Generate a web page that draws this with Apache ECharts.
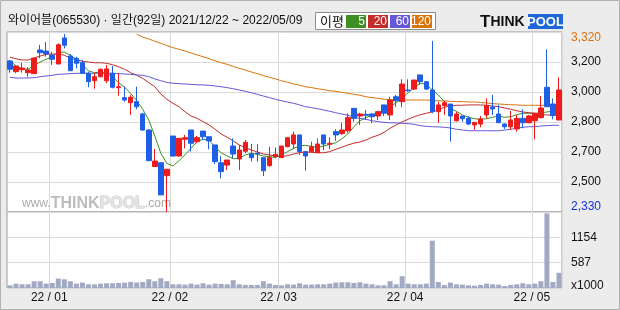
<!DOCTYPE html>
<html>
<head>
<meta charset="utf-8">
<script src="https://cdn.jsdelivr.net/npm/echarts@6/dist/echarts.min.js"></script>
<style>
  html, body { margin: 0; padding: 0; background: #ececec; }
  #chart { width: 620px; height: 310px; }
</style>
</head>
<body>
<div id="chart"></div>
<script type="text/javascript">
// 거래일 (2021/12/22 ~ 2022/05/09, 92일)
var dates = [
  '21/12/22','21/12/23','21/12/24','21/12/27','21/12/28','21/12/29','21/12/30',
  '22/01/03','22/01/04','22/01/05','22/01/06','22/01/07','22/01/10','22/01/11','22/01/12','22/01/13','22/01/14',
  '22/01/17','22/01/18','22/01/19','22/01/20','22/01/21','22/01/24','22/01/25','22/01/26','22/01/27','22/01/28',
  '22/02/03','22/02/04','22/02/07','22/02/08','22/02/09','22/02/10','22/02/11','22/02/14','22/02/15','22/02/16',
  '22/02/17','22/02/18','22/02/21','22/02/22','22/02/23','22/02/24','22/02/25','22/02/28',
  '22/03/02','22/03/03','22/03/04','22/03/07','22/03/08','22/03/10','22/03/11','22/03/14','22/03/15','22/03/16',
  '22/03/17','22/03/18','22/03/21','22/03/22','22/03/23','22/03/24','22/03/25','22/03/28','22/03/29','22/03/30','22/03/31',
  '22/04/01','22/04/04','22/04/05','22/04/06','22/04/07','22/04/08','22/04/11','22/04/12','22/04/13','22/04/14',
  '22/04/15','22/04/18','22/04/19','22/04/20','22/04/21','22/04/22','22/04/25','22/04/26','22/04/27','22/04/28','22/04/29',
  '22/05/02','22/05/03','22/05/04','22/05/06','22/05/09'
];

// 시가 / 종가 / 저가 / 고가
var openP = [3161,3102,3113,3096,3091,3221,3215,3193,3144,3287,3188,3175,3151,3093,3052,3074,3052,3093,3014,2959,
  2931,2937,2869,2781,2580,2601,2530,2748,2638,2730,2781,2717,2775,2744,2699,2601,2588,2693,2622,2664,
  2649,2653,2629,2585,2634,2629,2689,2704,2754,2662,2662,2656,2754,2702,2772,2761,2777,2900,2858,2867,
  2869,2858,2919,2864,2964,2937,3001,3006,3084,3047,3001,2882,2915,2924,2832,2858,2845,2809,2814,2864,
  2907,2869,2814,2799,2787,2845,2821,2832,2849,3016,2924,2836];
var closeP = [3115,3133,3122,3111,3177,3206,3199,3170,3250,3247,3107,3148,3093,3047,3074,3115,3117,3016,3019,2946,
  2961,2909,2781,2612,2610,2424,2565,2638,2735,2739,2708,2739,2744,2721,2607,2552,2616,2649,2671,2713,
  2629,2649,2557,2631,2647,2693,2739,2754,2662,2638,2689,2704,2704,2708,2754,2781,2849,2845,2869,2862,
  2854,2882,2873,2946,2942,3034,2997,3056,3047,3006,2882,2919,2931,2858,2869,2843,2814,2823,2842,2915,
  2897,2821,2799,2836,2845,2821,2858,2869,2902,2909,2860,3001];
var lowP = [3096,3093,3096,3074,3091,3175,3184,3139,3144,3230,3107,3120,3093,3016,3008,3071,3038,3010,2970,2937,
  2864,2895,2777,2612,2580,2424,2330,2634,2634,2680,2662,2708,2726,2675,2594,2515,2561,2625,2561,2653,
  2607,2607,2528,2579,2625,2629,2686,2675,2644,2557,2662,2656,2671,2675,2722,2754,2766,2827,2809,2836,
  2818,2836,2858,2836,2909,2906,2992,3001,3029,3001,2873,2821,2864,2717,2827,2827,2808,2781,2796,2845,
  2864,2821,2787,2781,2772,2790,2818,2730,2845,2909,2840,2836];
var highP = [3166,3139,3151,3126,3177,3249,3265,3212,3258,3309,3199,3184,3166,3102,3096,3120,3139,3133,3093,3019,
  2974,3019,2876,2785,2677,2601,2565,2748,2735,2754,2781,2748,2775,2744,2699,2638,2616,2735,2699,2726,
  2704,2704,2629,2689,2684,2693,2739,2772,2754,2662,2717,2735,2754,2741,2785,2821,2873,2900,2876,2891,
  2873,2882,2919,2964,2974,3060,3060,3056,3084,3047,3271,2937,2942,2924,2882,2858,2858,2823,2858,2955,
  2974,2919,2818,2885,2864,2895,2864,2876,2968,3225,2955,3071];

// 이동평균 (5 / 20 / 60 / 120)
var ma5 = [3162,3133,3118,3115,3137,3155,3170,3184,3208,3210,3192,3170,3139,3107,3096,3100,3093,3074,3041,3016,
  2983,2942,2895,2836,2748,2653,2598,2583,2612,2644,2680,2717,2730,2726,2686,2656,2638,2623,2625,2644,
  2653,2647,2638,2634,2631,2644,2662,2680,2693,2697,2691,2686,2693,2702,2711,2733,2759,2799,2832,2849,
  2864,2876,2891,2909,2931,2955,2986,3016,3038,3034,3001,2974,2937,2900,2884,2864,2851,2843,2840,2843,
  2851,2858,2851,2854,2865,2873,2873,2873,2876,2880,2884,2895];
var ma20 = [3181,3173,3166,3166,3177,3188,3197,3199,3199,3192,3177,3168,3159,3155,3151,3151,3148,3140,3129,3115,
  3096,3082,3065,3041,3019,2979,2950,2928,2909,2882,2858,2845,2827,2809,2785,2759,2741,2721,2699,2684,
  2671,2660,2649,2644,2638,2634,2640,2649,2656,2660,2658,2656,2656,2662,2675,2686,2699,2708,2715,2726,
  2741,2752,2768,2790,2809,2825,2840,2854,2865,2873,2880,2891,2906,2913,2917,2917,2919,2919,2919,2917,
  2913,2909,2902,2895,2887,2880,2876,2873,2867,2864,2862,2862];
var ma60 = [3071,3067,3067,3067,3069,3074,3078,3082,3087,3089,3091,3093,3093,3093,3093,3093,3093,3093,3091,3089,
  3087,3084,3082,3074,3062,3052,3043,3038,3036,3034,3032,3030,3029,3027,3023,3019,3014,3008,3001,2994,
  2986,2977,2968,2959,2950,2942,2935,2928,2919,2909,2904,2898,2891,2884,2876,2869,2862,2851,2845,2840,
  2832,2827,2823,2821,2820,2818,2816,2812,2805,2801,2799,2798,2796,2792,2785,2781,2777,2777,2777,2777,
  2777,2777,2781,2785,2790,2796,2799,2799,2803,2805,2807,2807];
var ma120 = [null,null,null,null,null,null,null,null,null,null,null,null,null,null,null,null,null,null,null,null,
  null,3308,3292,3282,3269,3258,3245,3234,3225,3216,3205,3194,3184,3173,3162,3151,3142,3131,3120,3111,
  3100,3091,3080,3071,3062,3052,3043,3034,3027,3019,3014,3008,3003,2997,2994,2988,2983,2977,2972,2964,
  2959,2955,2950,2948,2946,2946,2946,2946,2946,2946,2944,2942,2941,2939,2937,2937,2935,2935,2933,2930,
  2926,2924,2922,2920,2919,2917,2917,2917,2917,2917,2917,2917];

// 거래량 (x1000)
var volume = [62,100,85,85,155,155,100,116,216,200,155,100,124,85,85,100,108,108,116,124,
  139,124,139,200,155,224,155,85,85,77,100,77,108,77,100,93,85,178,85,70,
  70,70,155,100,70,62,85,77,108,77,77,85,85,100,124,131,131,116,131,100,
  85,62,62,155,85,270,100,85,85,100,1082,139,70,124,85,77,62,54,70,100,
  85,77,46,70,85,108,85,100,155,1708,139,348];

// 축 눈금 라벨
var priceLabels = ['2,330','2,500','2,700','2,800','3,000','3,200','3,320'];
var volLabels = ['x1000','587','1154',''];

var upColor = '#ee1b1b', downColor = '#1f5fe6';
var gridColor = '#dadada', borderColor = '#9c9c9c';
var font = '"Liberation Sans", "Noto Sans CJK KR", sans-serif';

// 월 시작 인덱스
var monthStart = [];
for (var i = 1; i < dates.length; i++) {
  if (dates[i].substr(0, 5) != dates[i - 1].substr(0, 5)) monthStart.push(i);
}
function isMonthStart(idx) { return monthStart.indexOf(idx) >= 0; }

var ohlc = [];
for (var k = 0; k < dates.length; k++) {
  ohlc.push([openP[k], closeP[k], lowP[k], highP[k]]);
}

function maSeries(name, data, color) {
  return {
    name: name, type: 'line', data: data, xAxisIndex: 0, yAxisIndex: 0,
    symbol: 'none', smooth: false, silent: true, z: 3,
    lineStyle: { color: color, width: 1 }
  };
}

var chart = echarts.init(document.getElementById('chart'), null, { renderer: 'canvas' });
var option = {
  animation: false,
  backgroundColor: '#ececec',
  textStyle: { fontFamily: font },
  grid: [
    { left: 7, top: 32, width: 555, height: 180, show: true, backgroundColor: '#fff',
      borderColor: borderColor, borderWidth: 1, containLabel: false, outerBoundsMode: 'none' },
    { left: 7, top: 212, width: 555, height: 76, show: true, backgroundColor: '#fff',
      borderColor: borderColor, borderWidth: 1, containLabel: false, outerBoundsMode: 'none' }
  ],
  xAxis: [
    { type: 'category', gridIndex: 0, data: dates, boundaryGap: true,
      axisLine: { show: false }, axisTick: { show: false }, axisLabel: { show: false },
      splitLine: { show: true, interval: function (idx) { return isMonthStart(idx); },
        lineStyle: { color: gridColor, width: 1 } } },
    { type: 'category', gridIndex: 1, data: dates, boundaryGap: true,
      axisLine: { show: false }, axisTick: { show: false },
      axisLabel: { show: true, interval: function (idx) { return isMonthStart(idx); },
        formatter: function (v) { return v.substr(0, 2) + ' / ' + v.substr(3, 2); },
        color: '#111', fontSize: 12, fontFamily: font, margin: 4, padding: [0, 6, 0, 0] },
      splitLine: { show: true, interval: function (idx) { return isMonthStart(idx); },
        lineStyle: { color: gridColor, width: 1 } } }
  ],
  yAxis: [
    { type: 'value', gridIndex: 0, min: 2330, max: 3320, show: false, splitLine: { show: false } },
    { type: 'value', gridIndex: 0, min: 0, max: 6, interval: 1, position: 'right',
      axisLine: { show: false }, axisTick: { show: false },
      splitLine: { show: true, lineStyle: { color: gridColor, width: 1 } },
      axisLabel: { show: true, margin: 9, fontSize: 12, fontFamily: font, align: 'left',
        formatter: function (v) {
          var s = priceLabels[Math.round(v)];
          if (v == 6) return '{top|' + s + '}';
          if (v == 0) return '{bot|' + s + '}';
          return s;
        },
        color: '#111',
        rich: {
          top: { color: '#d9740a', fontSize: 12, fontFamily: font, padding: [11, 0, 0, 0] },
          bot: { color: '#1a2fd8', fontSize: 12, fontFamily: font, padding: [0, 0, 10, 0] }
        } } },
    { type: 'value', gridIndex: 1, min: 0, max: 1740, show: false, splitLine: { show: false } },
    { type: 'value', gridIndex: 1, min: 0, max: 3, interval: 1, position: 'right',
      axisLine: { show: false }, axisTick: { show: false },
      splitLine: { show: true, lineStyle: { color: gridColor, width: 1 } },
      axisLabel: { show: true, margin: 9, fontSize: 12, fontFamily: font, align: 'left', color: '#111',
        formatter: function (v) {
          var s = volLabels[Math.round(v)];
          if (v == 0) return '{bot|' + s + '}';
          return s;
        },
        rich: { bot: { color: '#111', fontSize: 12, fontFamily: font, padding: [0, 0, 5, 0] } } } }
  ],
  series: [
    { name: 'candle', type: 'candlestick', data: ohlc, xAxisIndex: 0, yAxisIndex: 0,
      barWidth: 5, z: 4,
      itemStyle: { color: upColor, color0: downColor, borderColor: upColor, borderColor0: downColor, borderWidth: 1 } },
    maSeries('MA5', ma5, '#3d8f22'),
    maSeries('MA20', ma20, '#c42b2b'),
    maSeries('MA60', ma60, '#6656d8'),
    maSeries('MA120', ma120, '#d9740a'),
    { name: 'volume', type: 'bar', data: volume, xAxisIndex: 1, yAxisIndex: 2,
      barWidth: 5, itemStyle: { color: '#a2a9c2' } }
  ],
  graphic: [
    { type: 'rect', shape: { x: 0.5, y: 0.5, width: 619, height: 309 }, silent: true, z: -10,
      style: { fill: 'none', stroke: '#b2b2b2', lineWidth: 1 } },
    // 제목
    { type: 'text', x: 8, y: 21, silent: true,
      style: { text: '와이어블(065530) · 일간(92일) 2021/12/22 ~ 2022/05/09', fill: '#111',
        font: '12px ' + font, verticalAlign: 'middle' } },
    // 이평 범례
    { type: 'rect', shape: { x: 315.5, y: 12.5, width: 120, height: 17 }, silent: true,
      style: { fill: '#fff', stroke: '#8c8c8c', lineWidth: 1 } },
    { type: 'text', x: 320, y: 21, silent: true,
      style: { text: '이평', fill: '#111', font: '13px "Noto Sans CJK KR", sans-serif', verticalAlign: 'middle' } },
    { type: 'rect', shape: { x: 346, y: 15, width: 20, height: 13 }, silent: true, style: { fill: '#3d8f22' } },
    { type: 'rect', shape: { x: 368, y: 15, width: 20, height: 13 }, silent: true, style: { fill: '#c42b2b' } },
    { type: 'rect', shape: { x: 390, y: 15, width: 20, height: 13 }, silent: true, style: { fill: '#6656d8' } },
    { type: 'rect', shape: { x: 412, y: 15, width: 20, height: 13 }, silent: true, style: { fill: '#d9740a' } },
    { type: 'text', x: 365, y: 21.5, silent: true, style: { text: '5', fill: '#fff', font: '12px ' + font, align: 'right', verticalAlign: 'middle' } },
    { type: 'text', x: 387, y: 21.5, silent: true, style: { text: '20', fill: '#fff', font: '12px ' + font, align: 'right', verticalAlign: 'middle' } },
    { type: 'text', x: 409, y: 21.5, silent: true, style: { text: '60', fill: '#fff', font: '12px ' + font, align: 'right', verticalAlign: 'middle' } },
    { type: 'text', x: 431, y: 21.5, silent: true, style: { text: '120', fill: '#fff', font: '12px ' + font, align: 'right', verticalAlign: 'middle' } },
    // 로고
    { type: 'text', x: 480, y: 22, silent: true,
      style: { text: '{t|T}{h|HINK}', verticalAlign: 'middle',
        rich: { t: { fill: '#111', font: 'bold 17px "Liberation Sans", sans-serif' },
                h: { fill: '#111', font: 'bold 14px "Liberation Sans", sans-serif' } } } },
    { type: 'rect', shape: { x: 528, y: 14, width: 35, height: 15 }, silent: true, style: { fill: '#1f66d6' } },
    { type: 'text', x: 545.5, y: 22, silent: true,
      style: { text: 'POOL', fill: '#fff', font: 'bold 13px "Liberation Sans", sans-serif', align: 'center', verticalAlign: 'middle' } },
    // 워터마크
    { type: 'text', x: 22, y: 204, silent: true, z: 1,
      style: { text: '{a|www.}{b|THINK}{c|POOL}{a|.com}', verticalAlign: 'middle',
        rich: {
          a: { fill: '#a9a9a9', font: '12px "Liberation Sans", sans-serif' },
          b: { fill: '#bdbdbd', font: 'bold 16px "Liberation Sans", sans-serif' },
          c: { fill: '#e4e4e4', stroke: '#c8c8c8', lineWidth: 1, font: 'bold 16px "Liberation Sans", sans-serif' }
        } } }
  ]
};
chart.setOption(option);
</script>
</body>
</html>
